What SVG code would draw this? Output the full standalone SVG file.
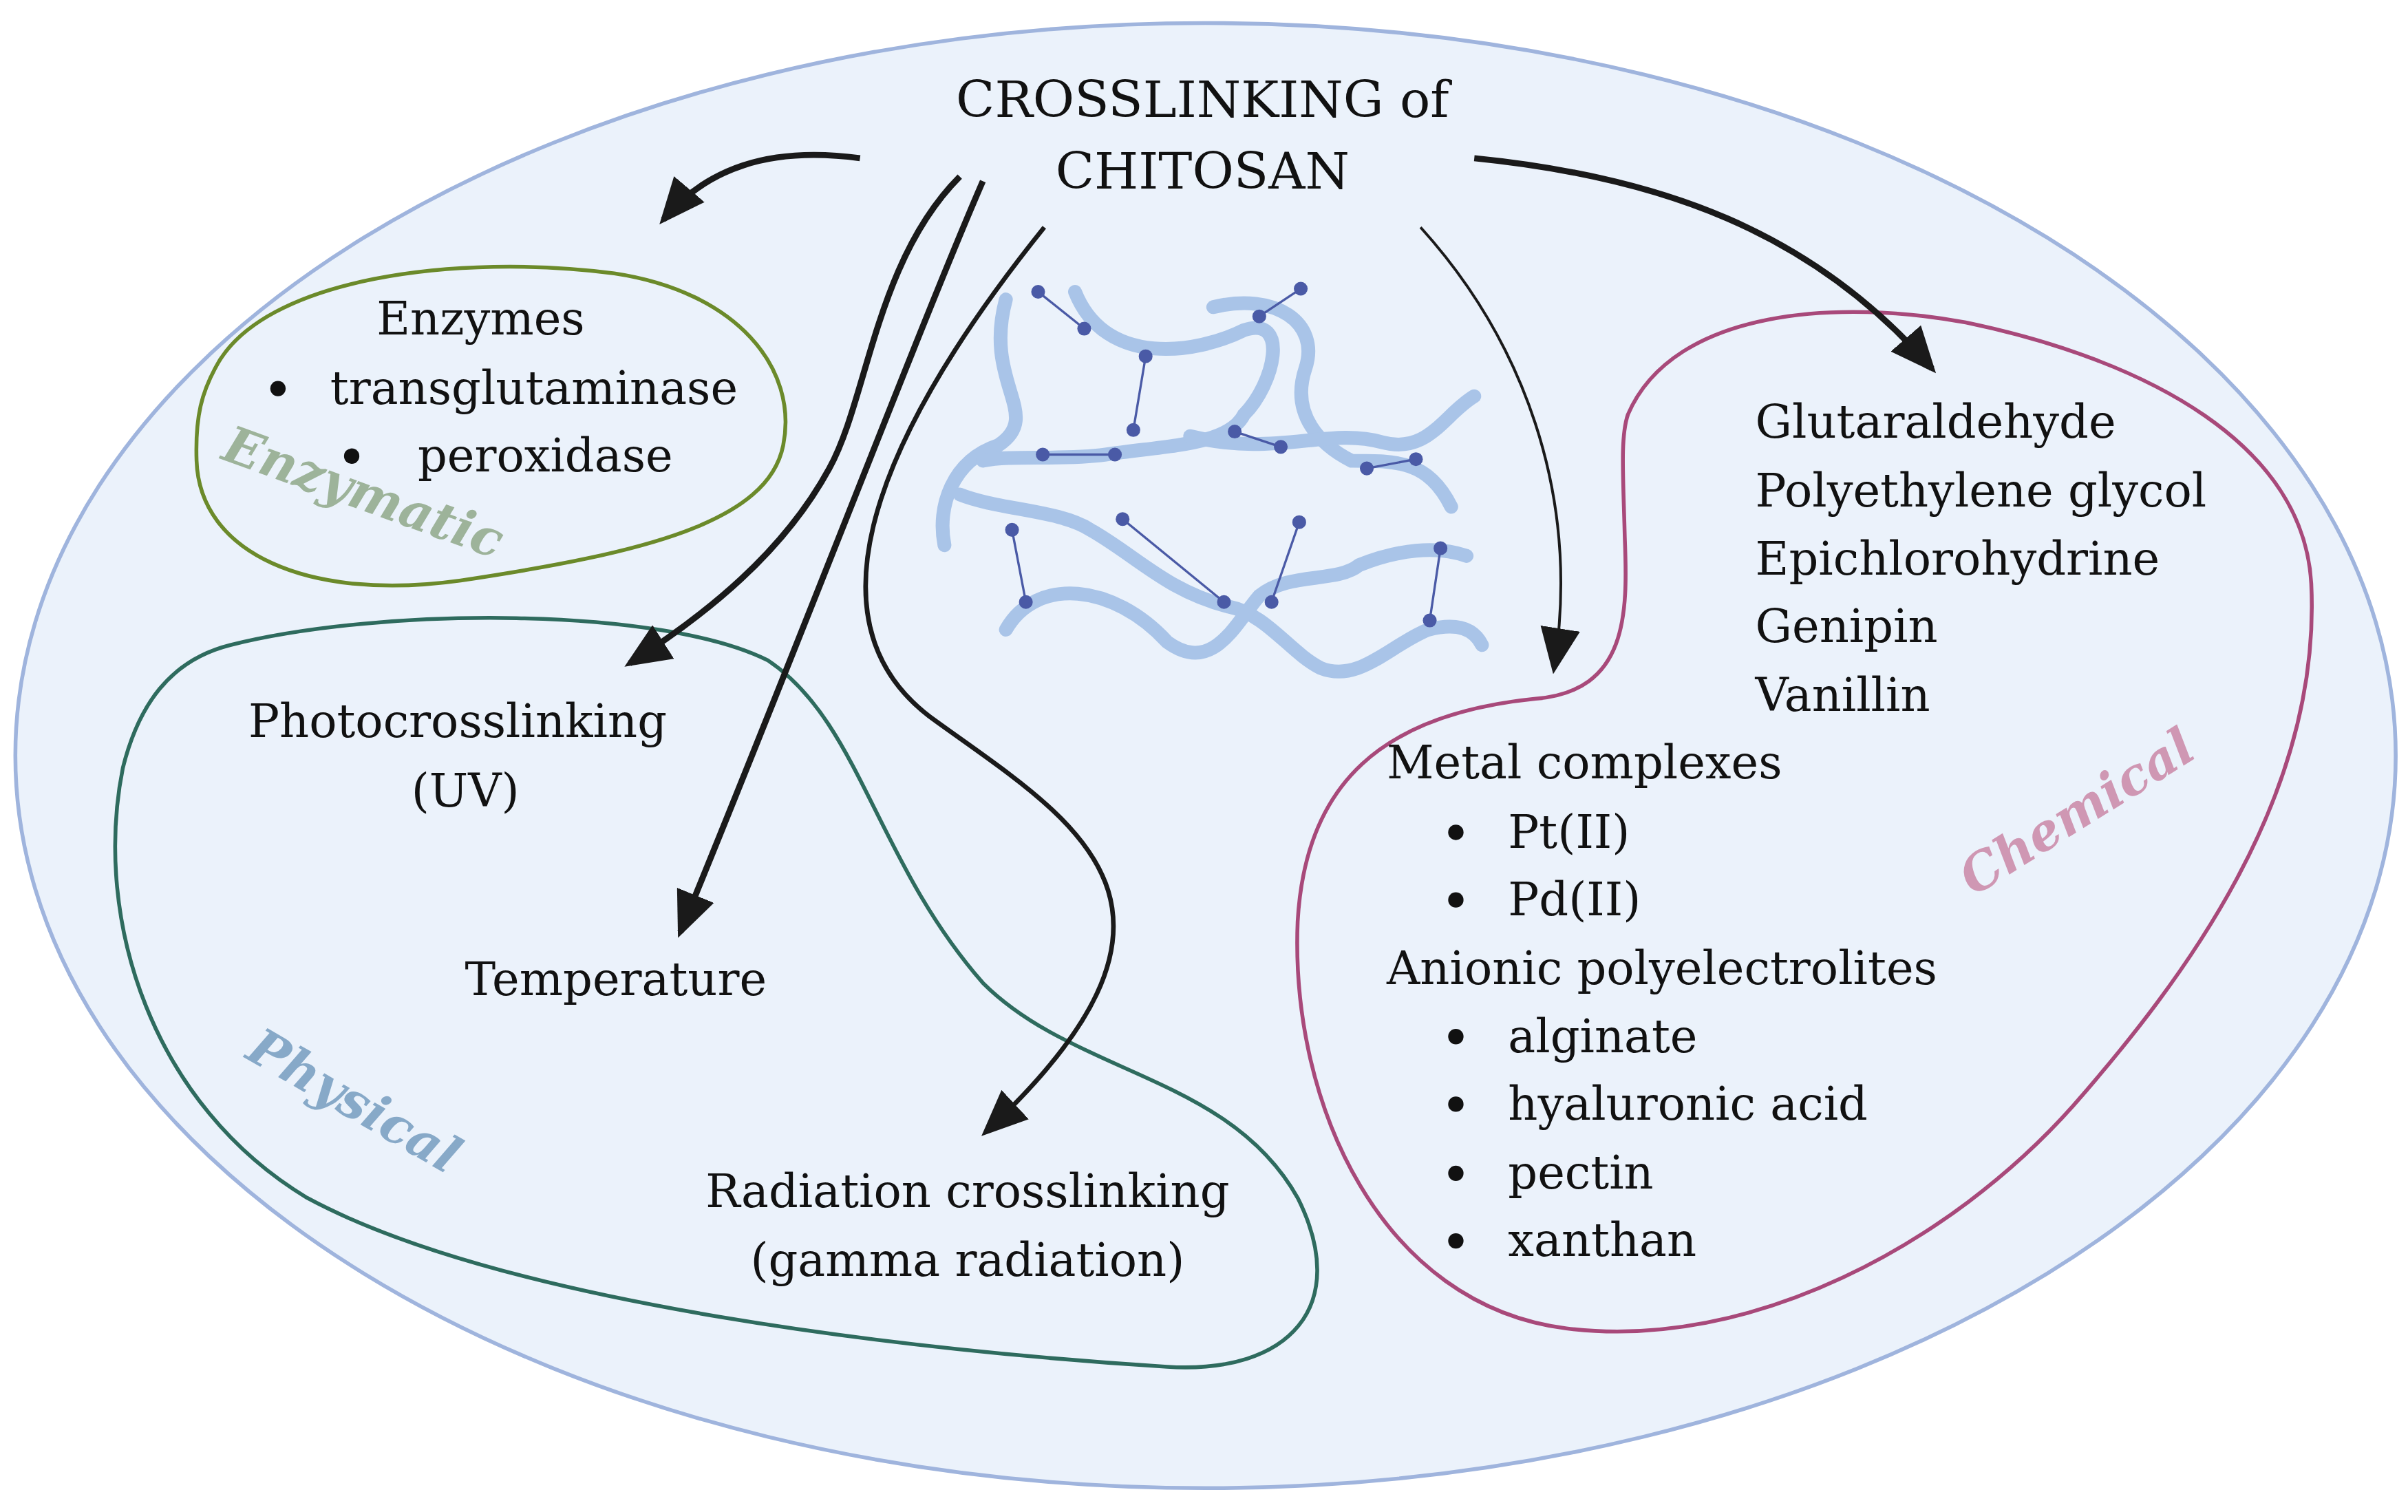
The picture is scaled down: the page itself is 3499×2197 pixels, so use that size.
<svg xmlns="http://www.w3.org/2000/svg" width="3499" height="2197" viewBox="0 0 3499 2197">
<style>
.t{font-family:"DejaVu Serif","Liberation Serif",serif;font-size:30px;fill:#111}
.c{text-anchor:middle}
.lab{font-family:"DejaVu Serif","Liberation Serif",serif;font-size:33px;font-style:italic;font-weight:bold;text-anchor:middle}
.arr{fill:none;stroke:#1a1a1a;stroke-width:4}
.thin{fill:none;stroke:#1a1a1a;stroke-width:1.8}
.strand{fill:none;stroke:#a9c4e8;stroke-width:9;stroke-linecap:round}
.link{stroke:#4a5aa6;stroke-width:1.5}
.nd{fill:#4a5aa6}
</style>
<defs>
<marker id="ah" markerUnits="userSpaceOnUse" markerWidth="30" markerHeight="26" refX="26" refY="13" orient="auto">
<path d="M0,0 L30,13 L0,26 Z" fill="#1a1a1a"/>
</marker>
</defs>
<rect width="3499" height="2197" fill="#ffffff"/>
<g transform="scale(2.2315)">
<g id="outer"><ellipse cx="785" cy="492" rx="775" ry="477" fill="#ebf2fb" stroke="#9fb4dd" stroke-width="2.5"/></g>
<g id="title"><text class="t c" x="783" y="76" style="font-size:33px">CROSSLINKING of</text><text class="t c" x="783" y="123" style="font-size:33px">CHITOSAN</text></g>
<g id="network">
<path class="strand" d="M655,195 C640,250 680,270 650,290 C620,300 610,330 615,355"/>
<path class="strand" d="M700,190 C720,240 780,230 810,215 C840,205 830,250 810,270 C800,290 760,290 720,296 C690,300 660,296 640,300"/>
<path class="strand" d="M790,200 C830,190 860,210 850,240 C840,270 860,290 880,300 C910,300 930,300 945,330"/>
<path class="strand" d="M625,322 C650,332 690,332 710,345 C740,362 760,385 800,395 C825,400 840,425 860,435 C885,445 905,420 930,410 C950,405 960,410 965,420"/>
<path class="strand" d="M655,410 C675,375 725,380 760,418 C790,440 805,405 820,388 C840,372 870,380 885,368 C910,358 935,355 955,362"/>
<path class="strand" d="M775,284 C830,298 865,278 900,288 C930,296 940,270 960,258"/>
<g class="link">
<line x1="676" y1="190" x2="706" y2="214"/><line x1="746" y1="232" x2="738" y2="280"/><line x1="726" y1="296" x2="679" y2="296"/>
<line x1="820" y1="206" x2="847" y2="188"/><line x1="804" y1="281" x2="834" y2="291"/><line x1="890" y1="305" x2="922" y2="299"/>
<line x1="659" y1="345" x2="668" y2="392"/><line x1="731" y1="338" x2="797" y2="392"/><line x1="846" y1="340" x2="828" y2="392"/>
<line x1="938" y1="357" x2="931" y2="404"/>
</g>
<g class="nd">
<circle cx="676" cy="190" r="4.5"/><circle cx="706" cy="214" r="4.5"/><circle cx="746" cy="232" r="4.5"/><circle cx="738" cy="280" r="4.5"/>
<circle cx="726" cy="296" r="4.5"/><circle cx="679" cy="296" r="4.5"/><circle cx="820" cy="206" r="4.5"/><circle cx="847" cy="188" r="4.5"/>
<circle cx="804" cy="281" r="4.5"/><circle cx="834" cy="291" r="4.5"/><circle cx="890" cy="305" r="4.5"/><circle cx="922" cy="299" r="4.5"/>
<circle cx="659" cy="345" r="4.5"/><circle cx="668" cy="392" r="4.5"/><circle cx="731" cy="338" r="4.5"/><circle cx="797" cy="392" r="4.5"/>
<circle cx="846" cy="340" r="4.5"/><circle cx="828" cy="392" r="4.5"/><circle cx="938" cy="357" r="4.5"/><circle cx="931" cy="404" r="4.5"/>
</g>
</g>
<g id="enzymatic">
<path d="M140,240 C170,180 300,165 400,178 C480,190 520,240 510,290 C500,340 420,360 300,378 C200,392 130,360 128,300 C127,270 132,255 140,240 Z" fill="none" stroke="#6b8a2a" stroke-width="2.5"/>
<text class="lab" x="237" y="332" fill="#9db39a" transform="rotate(20 237 320)">Enzymatic</text>
<text class="t c" x="313" y="218">Enzymes</text>
<circle cx="181" cy="253" r="5" fill="#111"/><text class="t" x="215" y="263">transglutaminase</text>
<circle cx="229" cy="297" r="5" fill="#111"/><text class="t" x="272" y="307">peroxidase</text>
</g>
<g id="physical">
<path d="M150,420 C250,395 430,395 500,430 C560,470 570,560 640,640 C700,700 800,700 845,780 C880,850 840,895 760,890 C600,880 330,850 200,780 C100,720 60,600 80,500 C90,460 110,430 150,420 Z" fill="none" stroke="#2e6b5e" stroke-width="2.5"/>
<text class="lab" x="230" y="728" fill="#87a9c8" transform="rotate(30 230 718)">Physical</text>
<text class="t c" x="298" y="480">Photocrosslinking</text><text class="t c" x="303" y="525">(UV)</text>
<text class="t c" x="401" y="648">Temperature</text>
<text class="t c" x="630" y="786">Radiation crosslinking</text><text class="t c" x="630" y="831">(gamma radiation)</text>
</g>
<g id="chemical">
<path d="M1060,270 C1090,200 1200,195 1280,210 C1400,235 1500,290 1505,380 C1512,520 1420,640 1350,720 C1270,810 1140,880 1020,865 C900,850 840,720 845,600 C850,510 900,465 1000,455 C1060,450 1060,400 1058,350 C1057,310 1055,285 1060,270 Z" fill="none" stroke="#a8497a" stroke-width="2.5"/>
<text class="lab" x="1352" y="540" fill="#cf97b3" transform="rotate(-32 1352 528)">Chemical</text>
<text class="t" x="1143" y="285">Glutaraldehyde</text><text class="t" x="1143" y="330">Polyethylene glycol</text>
<text class="t" x="1143" y="374">Epichlorohydrine</text><text class="t" x="1143" y="418">Genipin</text><text class="t" x="1143" y="463">Vanillin</text>
<text class="t" x="903" y="507">Metal complexes</text>
<circle cx="948" cy="542" r="5" fill="#111"/><text class="t" x="982" y="552">Pt(II)</text>
<circle cx="948" cy="586" r="5" fill="#111"/><text class="t" x="982" y="596">Pd(II)</text>
<text class="t" x="903" y="641">Anionic polyelectrolites</text>
<circle cx="948" cy="675" r="5" fill="#111"/><text class="t" x="982" y="685">alginate</text>
<circle cx="948" cy="719" r="5" fill="#111"/><text class="t" x="982" y="729">hyaluronic acid</text>
<circle cx="948" cy="764" r="5" fill="#111"/><text class="t" x="982" y="774">pectin</text>
<circle cx="948" cy="808" r="5" fill="#111"/><text class="t" x="982" y="818">xanthan</text>
</g>
<g id="connectors">
<path class="arr" d="M560,103 C500,95 460,110 432,143" marker-end="url(#ah)"/>
<path class="arr" d="M625,115 C570,170 565,260 540,305 C510,360 460,400 410,432" marker-end="url(#ah)"/>
<path class="arr" d="M640,118 C600,210 520,420 443,607" marker-end="url(#ah)"/>
<path class="arr" style="stroke-width:3" d="M680,148 C590,260 510,400 610,470 C700,535 800,590 642,737" marker-end="url(#ah)"/>
<path class="thin" d="M925,148 C990,220 1030,320 1012,435" marker-end="url(#ah)"/>
<path class="arr" d="M960,103 C1080,115 1180,150 1258,240" marker-end="url(#ah)"/>
</g>
</g>
</svg>
